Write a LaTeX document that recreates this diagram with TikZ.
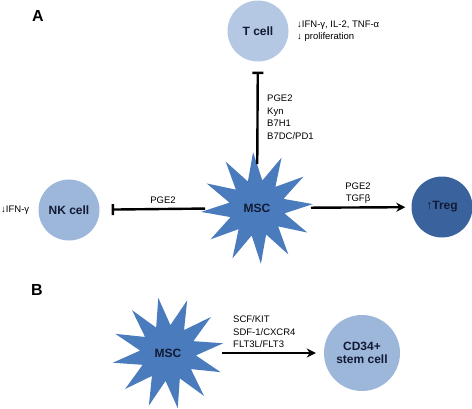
\documentclass[tikz,border=0pt]{standalone}
\usepackage{fontspec}
\setmainfont{Liberation Sans}
\usetikzlibrary{positioning, arrows.meta, shapes}
\definecolor{cellpale}{RGB}{180,199,227}
\definecolor{cellmid}{RGB}{157,183,219}
\definecolor{celldark}{RGB}{58,99,158}
\definecolor{mscblue}{RGB}{74,124,189}
\definecolor{cellink}{RGB}{18,26,52}
\tikzset{
  cell/.style={
    circle, fill=cellmid, minimum size=61pt, inner sep=0pt,
    font=\fontsize{12}{13}\selectfont\bfseries, text=cellink, align=center
  },
  msc/.style={
    star, star points=12, star point ratio=2.0,
    fill=mscblue, minimum size=112pt, inner sep=0pt,
    font=\fontsize{12}{13}\selectfont\bfseries, text=cellink
  },
  lbl/.style={font=\fontsize{9.5}{12.5}\selectfont, align=left, inner sep=0pt},
  panel/.style={font=\fontsize{16}{18}\selectfont\bfseries, inner sep=0pt},
  harr/.style={-{Stealth[length=9pt, width=9pt]}, line width=2.4pt},
  inhib/.style={-{Bar[width=11pt, line width=2.4pt]}, line width=2.4pt},
}

\begin{document}
\begin{tikzpicture}[x=1pt, y=-1pt]
  \useasboundingbox (0,0) rectangle (472,408);
  % panel A
  \node[panel] (pa) at (38,16) {A};
  \node[msc, shape border rotate=4] (msca) at (257,208) {MSC};
  \node[cell, fill=cellpale] (tcell) at (258,31) {T cell};
  \node[cell] (nkcell) at (69,210) {NK cell};
  \node[cell, fill=celldark] (treg) at (442,207) {↑Treg};
  \node[lbl, anchor=west] (teff) at (297,31) {↓IFN-γ, IL-2, TNF-α\\↓ proliferation};
  \node[lbl, anchor=west] (nkeff) at (1,210) {↓IFN-γ};
  \draw[inhib, shorten <=44pt, shorten >=10pt] (msca.center) -- (tcell);
  \draw[inhib, shorten <=52pt, shorten >=12pt] (msca.center) -- (nkcell);
  \draw[harr, shorten <=54pt, shorten >=6pt] (msca.center) -- (treg);
  \node[lbl, anchor=west] (tmed) at (267,117) {PGE2\\Kyn\\B7H1\\B7DC/PD1};
  \node[lbl] (nkmed) at (163,200) {PGE2};
  \node[lbl, align=center] (tregmed) at (358,193) {PGE2\\TGFβ};
  % panel B
  \node[panel] (pb) at (37,290) {B};
  \node[msc, shape border rotate=10] (mscb) at (168,353) {MSC};
  \node[cell, minimum size=76pt] (stem) at (362,353) {CD34+\\stem cell};
  \draw[harr, shorten <=54pt, shorten >=8pt] (mscb.center) -- (stem);
  \node[lbl, anchor=west] (stemmed) at (233,332) {SCF/KIT\\SDF-1/CXCR4\\FLT3L/FLT3};
\end{tikzpicture}
\end{document}
